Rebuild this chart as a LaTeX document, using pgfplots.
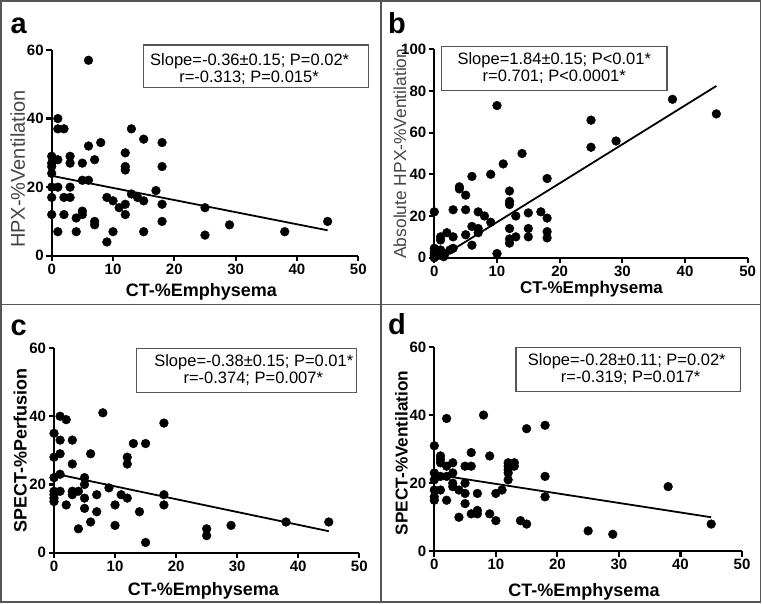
\documentclass[border=0pt]{standalone}
\usepackage{fontspec}
\setmainfont{Liberation Sans}
\usepackage{pgfplots}
\pgfplotsset{compat=1.18}
\definecolor{framec}{RGB}{85,85,85}
\definecolor{ylabc}{RGB}{70,70,70}
\pgfplotsset{
  panel/.style={
    scale only axis,
    anchor=south west,
    axis lines=left,
    axis line style={line width=2.2pt, -},
    xmin=0, xmax=50, ymin=0,
    xtick={0,10,20,30,40,50},
    tick align=outside,
    major tick length=5.5pt,
    tick style={line width=2.2pt, black},
    tick label style={font=\bfseries, scale=1.5, inner sep=1.5pt},
    /pgf/number format/assume math mode=true,
    clip=false,
    xlabel={CT-\%Emphysema},
    every axis x label/.style={font=\fontsize{18}{21}\selectfont\bfseries, anchor=base},
  },
  dots/.style={only marks, mark=*, mark size=4.4pt, mark options={fill=black, draw=black}},
  fit/.style={black, line width=1.8pt, no marks},
}
\begin{document}
\begin{tikzpicture}
\useasboundingbox (0pt,0pt) rectangle (762pt,604pt);
% frame
\draw[framec, line width=1.5pt] (1pt,2pt) rectangle (760.5pt,603pt);
\draw[framec, line width=1.5pt] (381pt,2pt) -- (381pt,603pt);
\draw[framec, line width=1.5pt] (1pt,299.7pt) -- (760.5pt,299.7pt);

% ---------- panel a ----------
\begin{axis}[panel, at={(51.7pt,348.3pt)}, width=306.6pt, height=205.7pt,
  ymax=60, ytick={0,20,40,60},
  xlabel style={at={(axis description cs:0.488,-0.196)}},
  ylabel={HPX-\%Ventilation},
  every axis y label/.style={font=\fontsize{20}{24}\selectfont, color=ylabc, rotate=90, anchor=base,
     at={(axis description cs:-0.0871,0.4215)}}]
\addplot[dots] coordinates {
(6,57) (1,40) (1,37) (2,37) (13,37) (15,34) (8,33) (18,33) (6,32) (12,30)
(0,29) (3,29) (1,28) (7,28) (0,27) (3,27) (5,27) (0,26) (12,26) (18,26)
(12,25) (0,24) (5,22) (6,22) (0,20) (1,20) (3,20) (17,19) (13,18)
(0,17) (2,17) (3,17) (9,17) (14,17) (10,16) (15,16) (12,15) (18,15)
(11,14) (25,14) (5,13) (0,12) (2,12) (5,12) (12,12) (4,11)
(7,10) (18,10) (45,10) (7,9) (29,9) (1,7) (4,7) (10,7) (15,7) (38,7)
(25,6) (9,4)
};
\addplot[fit] coordinates {(0,23.3) (45,7.4)};
\end{axis}

% ---------- panel b ----------
\begin{axis}[panel, at={(434.3pt,346.3pt)}, width=313.4pt, height=208.4pt,
  ymax=100, ytick={0,20,40,60,80,100},
  every axis x label/.style={font=\fontsize{17}{20}\selectfont\bfseries, anchor=base},
  xlabel style={at={(axis description cs:0.5016,-0.171)}},
  ylabel={Absolute HPX-\%Ventilation},
  every axis y label/.style={font=\fontsize{17.4}{20}\selectfont, color=ylabc, rotate=90, anchor=base,
     at={(axis description cs:-0.0903,0.499)}}]
\addplot[dots] coordinates {
(10,73) (38,76) (45,69) (25,66) (25,53) (29,56) (14,50) (11,45) (9,40) (6,39)
(18,38) (4,34) (4,33) (5,30) (12,32) (12,27) (12,25.5) (3,23) (5,23) (0,22)
(7,22) (8,20) (15,21.5) (17,22) (18,19) (13,20) (9,17) (6,15) (7,14) (7,12)
(12,14) (15,14) (18,12.5) (18,9.5) (15,10) (13,10) (12,9) (12,7) (5,11) (3,10)
(2,12) (6,6) (10,2) (1,10) (1,8.5) (0,0) (0,1) (0,2) (0,3) (0,4.5)
(0.5,1) (1,1.3) (1,3.7) (1.7,2) (2.5,3.7) (1.5,0.5) (3,4.5)
};
\addplot[fit] coordinates {(2,2.1) (45,82.4)};
\end{axis}

% ---------- panel c ----------
\begin{axis}[panel, at={(54pt,51.3pt)}, width=305.3pt, height=204.7pt,
  ymax=60, ytick={0,20,40,60},
  xlabel style={at={(axis description cs:0.489,-0.2115)}},
  ylabel={SPECT-\%Perfusion},
  every axis y label/.style={font=\fontsize{18}{21}\selectfont\bfseries, rotate=90, anchor=base,
     at={(axis description cs:-0.0894,0.497)}}]
\addplot[dots] coordinates {
(1,40) (2,39) (8,41) (18,38) (0,35) (1,33) (3,33) (13,32) (15,32) (1,29)
(6,29) (0,28) (12,28) (12,26) (3,26) (1,23) (0,22) (5,22) (5,20) (0,18)
(0,17) (0,16) (0,15) (1,18) (3,18) (4,18) (3,17) (2,14) (5,16) (7,17)
(7,12) (5,13) (4,7) (6,9) (9,19) (10,14) (10,8) (11,17) (12,16) (14,12)
(15,3) (18,17) (18,14) (25,7) (25,5) (29,8) (38,9) (45,9)
};
\addplot[fit] coordinates {(0,23.2) (45,6.3)};
\end{axis}

% ---------- panel d ----------
\begin{axis}[panel, at={(434.3pt,52.7pt)}, width=307.7pt, height=204.3pt,
  ymax=60, ytick={0,20,40,60},
  xlabel style={at={(axis description cs:0.4865,-0.220)}},
  ylabel={SPECT-\%Ventilation},
  every axis y label/.style={font=\fontsize{17.2}{20}\selectfont\bfseries, rotate=90, anchor=base,
     at={(axis description cs:-0.0864,0.482)}}]
\addplot[dots] coordinates {
(2,39) (8,40) (18,37) (15,36) (0,31) (6,29) (9,28) (1,28) (1,27) (1,26)
(2,25) (3,26) (5,25) (6,25) (12,26) (13,26) (12,25) (13,25) (12,24) (12,23)
(12,21) (0,23) (0,21) (0,18) (0,16) (0,15) (1,22) (2,22) (3,23) (3,20)
(3,19) (1,18) (4,18) (5,20) (5,17) (5,14) (2,15) (4,10) (6,11) (7,17)
(7,12) (7,11) (9,11) (10,17) (10,9) (11,18) (14,9) (15,8) (18,22) (18,16)
(25,6) (29,5) (38,19) (45,8)
};
\addplot[fit] coordinates {(0,22.6) (45,10.0)};
\end{axis}

% annotation boxes
\draw[framec, line width=1.2pt] (143.3pt,516.7pt) rectangle (368.7pt,559pt);
\node[anchor=base, inner sep=0pt, font=\fontsize{16.5}{16.5}\selectfont] at (249.7pt,538pt) {Slope=-0.36±0.15; P=0.02*};
\node[anchor=base, inner sep=0pt, font=\fontsize{16.5}{16.5}\selectfont] at (249pt,521.3pt) {r=-0.313; P=0.015*};

\draw[framec, line width=1.2pt] (441.7pt,513.3pt) rectangle (667pt,557.3pt);
\node[anchor=base, inner sep=0pt, font=\fontsize{16.5}{16.5}\selectfont] at (554.3pt,539pt) {Slope=1.84±0.15; P<0.01*};
\node[anchor=base, inner sep=0pt, font=\fontsize{16.5}{16.5}\selectfont] at (554.3pt,522.3pt) {r=0.701; P<0.0001*};

\draw[framec, line width=1.2pt] (136.7pt,211.3pt) rectangle (356.7pt,255.3pt);
\node[anchor=base, inner sep=0pt, font=\fontsize{16.5}{16.5}\selectfont] at (253.8pt,237pt) {Slope=-0.38±0.15; P=0.01*};
\node[anchor=base, inner sep=0pt, font=\fontsize{16.5}{16.5}\selectfont] at (253.3pt,220.3pt) {r=-0.374; P=0.007*};

\draw[framec, line width=1.2pt] (516pt,212.7pt) rectangle (740.3pt,256.3pt);
\node[anchor=base, inner sep=0pt, font=\fontsize{16.5}{16.5}\selectfont] at (626.8pt,238pt) {Slope=-0.28±0.11; P=0.02*};
\node[anchor=base, inner sep=0pt, font=\fontsize{16.5}{16.5}\selectfont] at (630.7pt,221.3pt) {r=-0.319; P=0.017*};

% panel letters
\node[anchor=base west, inner sep=0pt, font=\fontsize{29}{30}\selectfont\bfseries] at (10.5pt,570.7pt) {a};
\node[anchor=base west, inner sep=0pt, font=\fontsize{29}{30}\selectfont\bfseries] at (388pt,570.7pt) {b};
\node[anchor=base west, inner sep=0pt, font=\fontsize{29}{30}\selectfont\bfseries] at (10.5pt,268.7pt) {c};
\node[anchor=base west, inner sep=0pt, font=\fontsize{29}{30}\selectfont\bfseries] at (388pt,269.3pt) {d};
\end{tikzpicture}
\end{document}
